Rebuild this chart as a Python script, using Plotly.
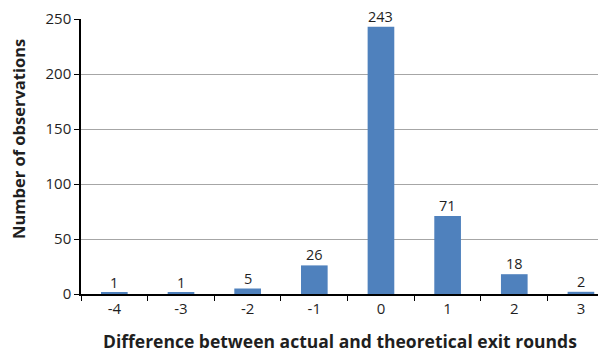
import plotly.graph_objects as go

categories = ["-4", "-3", "-2", "-1", "0", "1", "2", "3"]
values = [1, 1, 5, 26, 243, 71, 18, 2]
y_ticks = [0, 50, 100, 150, 200, 250]

FONT = "Open Sans, sans-serif"
TXT = "#1f1f1f"

fig = go.Figure()
fig.add_trace(go.Bar(
    x=categories, y=values,
    marker=dict(color="#4F81BD", line=dict(width=0)),
    width=0.4,
))

for i, v in enumerate(values):
    fig.add_annotation(x=i, y=v, xref="x", yref="y", text=str(v), showarrow=False,
                       yanchor="bottom", yshift=0, borderpad=0,
                       font=dict(family=FONT, size=14.5, color=TXT))

fig.add_annotation(text="<b>Number of observations</b>", xref="paper", yref="paper",
                   x=-0.118, y=0.564, xanchor="center", yanchor="middle",
                   textangle=-90, showarrow=False, borderpad=0,
                   font=dict(family=FONT, size=16.5, color=TXT))
fig.add_annotation(text="<b>Difference between actual and theoretical exit rounds</b>",
                   xref="paper", yref="paper",
                   x=0.494, y=-0.171, xanchor="center", yanchor="middle",
                   showarrow=False,
                   font=dict(family=FONT, size=17.5, color=TXT))

# page body has an 8px default margin: size/margins compensate for it
fig.update_layout(
    width=598, height=346,
    margin=dict(l=73, r=0, t=11, b=60),
    paper_bgcolor="white", plot_bgcolor="white",
    showlegend=False,
    font=dict(family=FONT, size=15, color=TXT),
    xaxis=dict(
        type="category",
        range=[-0.5, 7.376],
        tickson="boundaries",
        ticks="outside", ticklen=5, tickcolor="black", tickwidth=1,
        showline=True, linecolor="black", linewidth=1.5,
        showgrid=False,
        tickfont=dict(family=FONT, size=15, color=TXT),
    ),
    yaxis=dict(
        range=[0, 250],
        tickvals=y_ticks,
        ticks="outside", ticklen=5, tickcolor="black", tickwidth=1,
        showline=True, linecolor="black", linewidth=1.5,
        showgrid=True, gridcolor="#A6A6A6", gridwidth=1,
        zeroline=False,
        tickfont=dict(family=FONT, size=15, color=TXT),
    ),
)

fig.write_html("out.html")
